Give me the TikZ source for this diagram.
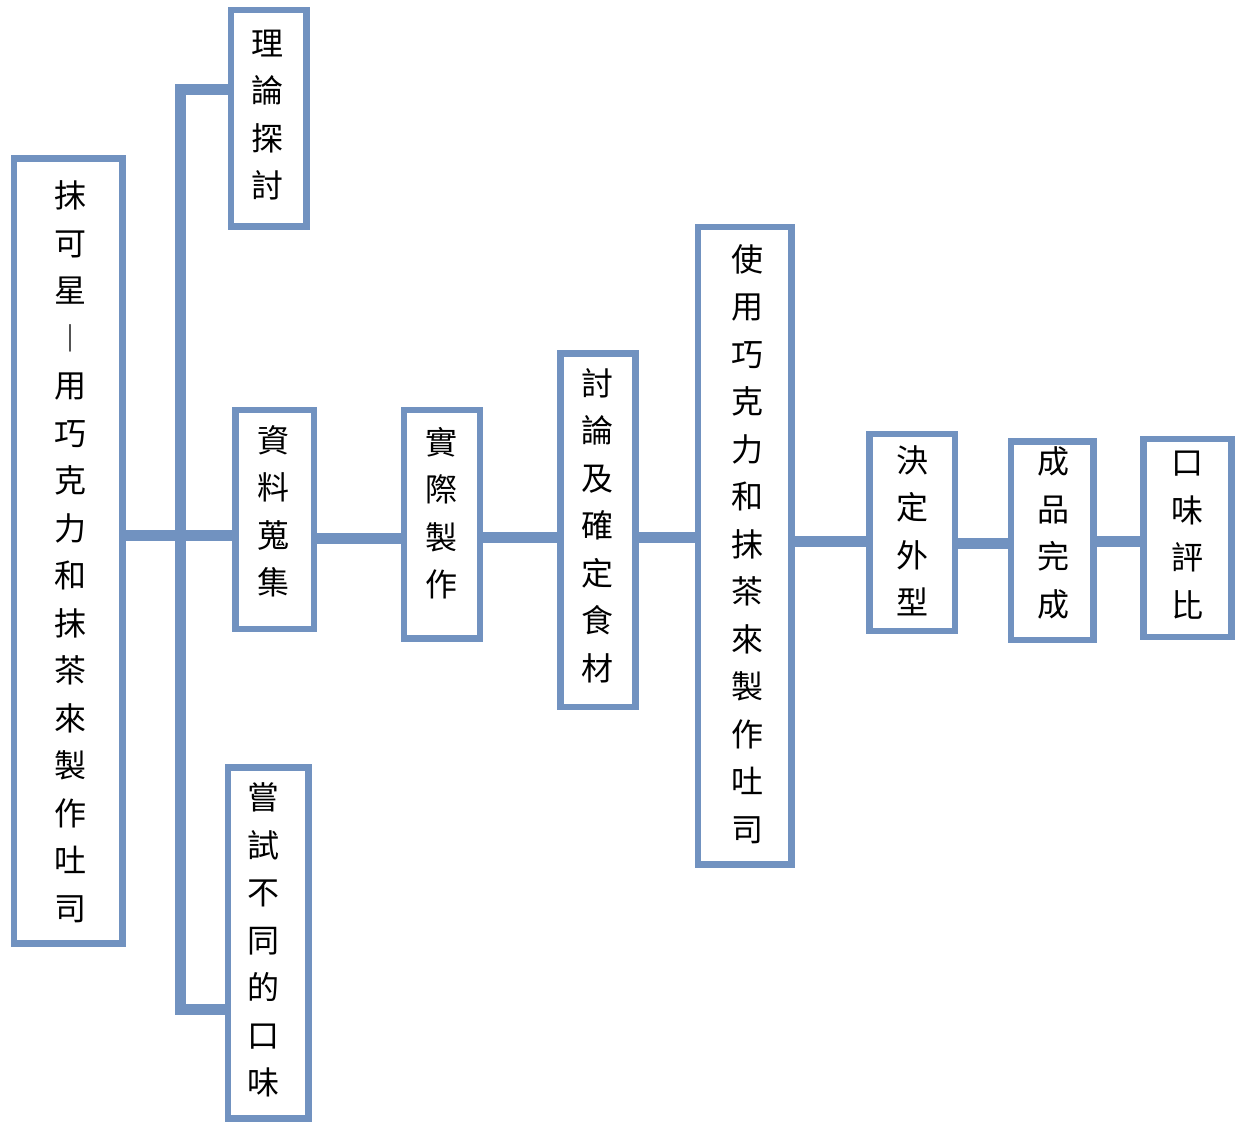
\documentclass[tikz,border=0pt]{standalone}
\usepackage{fontspec}
\usetikzlibrary{backgrounds}
\newfontfamily\cjk{Noto Sans CJK TC}
\definecolor{lineblue}{RGB}{113,146,192}
\begin{document}
\begin{tikzpicture}[x=1pt,y=-1pt,
  box/.style={draw=lineblue,fill=white,line width=6.5pt,rectangle,inner sep=0pt,outer sep=0pt},
  vtext/.style={font=\cjk\fontsize{32}{47.5}\selectfont,align=center,inner sep=0pt,text=black},
  conn/.style={draw=lineblue,line width=11pt,line join=miter}]
\useasboundingbox (0,0) rectangle (1239,1124);

% bus coordinates
\coordinate (bt) at (180,89.5);
\coordinate (bm) at (180,535);
\coordinate (bb) at (180,1009.5);

% boxes (drawn as nodes)
\node[box,minimum width=108.5pt,minimum height=785pt] (A) at (68.25,551) {};
\node[box,minimum width=75.5pt,minimum height=216.5pt] (T) at (268.75,118.25) {};
\node[box,minimum width=78.5pt,minimum height=219pt] (D) at (274.75,519.5) {};
\node[box,minimum width=80.5pt,minimum height=351pt] (S) at (268.25,943) {};
\node[box,minimum width=76pt,minimum height=228.5pt] (E) at (442,524.25) {};
\node[box,minimum width=75pt,minimum height=353.5pt] (F) at (598,530.25) {};
\node[box,minimum width=93.5pt,minimum height=637.5pt] (G) at (744.75,545.75) {};
\node[box,minimum width=85.5pt,minimum height=197pt] (H) at (912.25,532.5) {};
\node[box,minimum width=82.5pt,minimum height=198.5pt] (I) at (1052.25,540.75) {};
\node[box,minimum width=88pt,minimum height=198pt] (J) at (1187.5,538) {};

% connectors, behind the boxes
\begin{pgfonlayer}{background}
\fill[white] (0,0) rectangle (1239,1124);
\draw[conn] (T.west |- bt) -- (bt) -- (bb) -- (S.west |- bb);
\draw[conn] (A.east |- bm) -- (D.west |- bm);
\draw[conn] (D.east |- 0,538) -- (E.west |- 0,538);
\draw[conn] (E.east |- 0,537) -- (F.west |- 0,537);
\draw[conn] (F.east |- 0,537) -- (G.west |- 0,537);
\draw[conn] (G.east |- 0,541) -- (H.west |- 0,541);
\draw[conn] (H.east |- 0,543) -- (I.west |- 0,543);
\draw[conn] (I.east |- 0,541) -- (J.west |- 0,541);
\end{pgfonlayer}

% texts
\node[vtext] (tA) at (70,551.5) {抹\\可\\星\\︱\\用\\巧\\克\\力\\和\\抹\\茶\\來\\製\\作\\吐\\司};
\node[vtext] (tT) at (267,115) {理\\論\\探\\討};
\node[vtext] (tD) at (273,511.5) {資\\料\\蒐\\集};
\node[vtext] (tS) at (263,940) {嘗\\試\\不\\同\\的\\口\\味};
\node[vtext] (tE) at (441,513) {實\\際\\製\\作};
\node[vtext] (tF) at (597,525.5) {討\\論\\及\\確\\定\\食\\材};
\node[vtext] (tG) at (747,544) {使\\用\\巧\\克\\力\\和\\抹\\茶\\來\\製\\作\\吐\\司};
\node[vtext] (tH) at (912,531) {決\\定\\外\\型};
\node[vtext] (tI) at (1053,533) {成\\品\\完\\成};
\node[vtext] (tJ) at (1187,535) {口\\味\\評\\比};
\end{tikzpicture}
\end{document}
